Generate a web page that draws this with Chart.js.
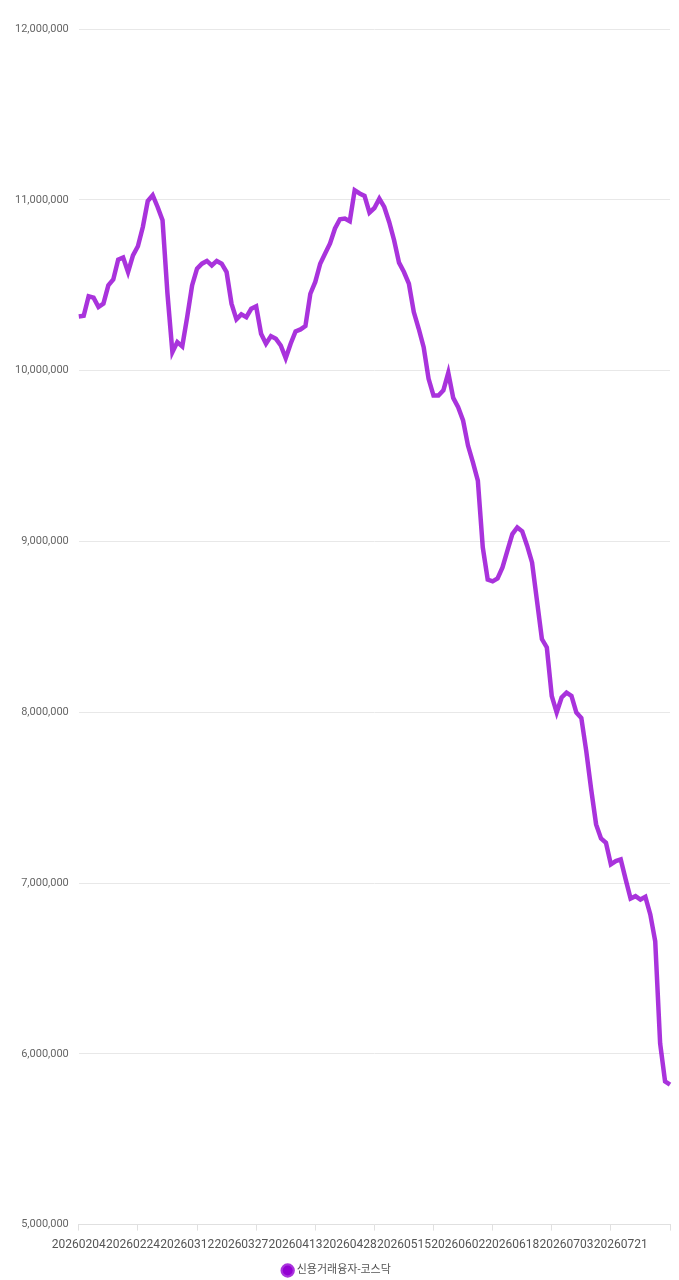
<!DOCTYPE html>
<html lang="ko">
<head>
<meta charset="utf-8">
<title>신용거래융자-코스닥</title>
<script src="https://cdn.jsdelivr.net/npm/chart.js@4.4.1/dist/chart.umd.min.js"></script>
<style>
    html, body { margin: 0; padding: 0; background: #fff; }
    #caixa { position: relative; width: 679px; height: 1280px; }
</style>
</head>
<body>
<div id="caixa"><canvas id="graficoCredito"></canvas></div>
<script>
// ---- dados do gráfico (datas de pregão e saldo)

const nomeSerie = '신용거래융자-코스닥';

const datas = [
    '20260204', '20260205', '20260206', '20260209', '20260210', '20260211', '20260212', '20260213', '20260219', '20260220', '20260223',
    '20260224', '20260225', '20260226', '20260227', '20260303', '20260304', '20260305', '20260306', '20260309', '20260310', '20260311',
    '20260312', '20260313', '20260316', '20260317', '20260318', '20260319', '20260320', '20260323', '20260324', '20260325', '20260326',
    '20260327', '20260330', '20260331', '20260401', '20260402', '20260403', '20260406', '20260407', '20260408', '20260409', '20260410',
    '20260413', '20260414', '20260415', '20260416', '20260417', '20260420', '20260421', '20260422', '20260423', '20260424', '20260427',
    '20260428', '20260429', '20260430', '20260504', '20260506', '20260507', '20260508', '20260511', '20260512', '20260513', '20260514',
    '20260515', '20260518', '20260519', '20260520', '20260521', '20260522', '20260526', '20260527', '20260528', '20260529', '20260601',
    '20260602', '20260604', '20260605', '20260608', '20260609', '20260610', '20260611', '20260612', '20260615', '20260616', '20260617',
    '20260618', '20260619', '20260622', '20260623', '20260624', '20260625', '20260626', '20260629', '20260630', '20260701', '20260702',
    '20260703', '20260706', '20260707', '20260708', '20260709', '20260710', '20260713', '20260714', '20260715', '20260716', '20260720',
    '20260721', '20260722', '20260723', '20260724', '20260727', '20260728', '20260729', '20260730', '20260731', '20260803', '20260804'
];

const saldo = [
    10317000, 10321000, 10435000, 10427000, 10372000, 10392000, 10499000, 10533000, 10650000, 10662000, 10577000,
    10675000, 10728000, 10841000, 10993000, 11027000, 10958000, 10880000, 10450000, 10108000, 10167000, 10142000,
    10313000, 10499000, 10597000, 10626000, 10642000, 10616000, 10642000, 10626000, 10577000, 10392000, 10300000,
    10329000, 10313000, 10362000, 10376000, 10216000, 10157000, 10202000, 10187000, 10147000, 10073000, 10157000,
    10229000, 10241000, 10261000, 10450000, 10519000, 10626000, 10685000, 10744000, 10832000, 10886000, 10890000,
    10874000, 11056000, 11037000, 11023000, 10925000, 10952000, 11007000, 10958000, 10870000, 10763000, 10632000,
    10577000, 10509000, 10343000, 10245000, 10137000, 9952000, 9854000, 9854000, 9884000, 9987000, 9840000,
    9786000, 9708000, 9561000, 9463000, 9356000, 8965000, 8776000, 8766000, 8783000, 8848000, 8946000,
    9043000, 9082000, 9059000, 8975000, 8877000, 8652000, 8428000, 8379000, 8095000, 7998000, 8086000,
    8115000, 8095000, 7998000, 7966000, 7773000, 7548000, 7343000, 7261000, 7236000, 7109000, 7128000,
    7138000, 7021000, 6909000, 6923000, 6903000, 6919000, 6816000, 6659000, 6060000, 5838000, 5819000
];

// eixo y: limites e passo
const eixoYMin = 5000000;
const eixoYMax = 12000000;
const eixoYPasso = 1000000;

// um rótulo a cada 11 pregões, uma marca no eixo a cada 12
const passoRotulo = 11;
const passoMarca = 12;

// ---- gráfico

Chart.defaults.font.family = "Roboto, 'Noto Sans CJK KR', sans-serif";
Chart.defaults.color = '#666';

const ctx = document.getElementById('graficoCredito').getContext('2d');

let graficoCredito = new Chart(ctx, {
    type: 'line',
    data: {
        labels: datas,
        datasets: [{
            label: nomeSerie,
            data: saldo,
            borderColor: 'rgba(148, 0, 211, 0.8)',
            backgroundColor: '#9400d3',
            borderWidth: 4.5,
            pointRadius: 0,
            pointHoverRadius: 0,
            tension: 0,
            fill: false
        }]
    },
    options: {
        responsive: true,
        maintainAspectRatio: false,
        animation: false,
        layout: {
            // legenda encostada na borda de baixo
            padding: { top: 29, left: 5, right: 9, bottom: -6 }
        },
        plugins: {
            legend: {
                position: 'bottom',
                labels: {
                    usePointStyle: true,
                    pointStyle: 'circle',
                    boxWidth: 7,
                    boxHeight: 7,
                    padding: 6,
                    color: '#555',
                    font: { size: 11 }
                }
            },
            tooltip: { enabled: false }
        },
        scales: {
            // rótulos das datas
            x: {
                type: 'category',
                position: 'bottom',
                weight: 1,
                grid: { display: false, drawTicks: false },
                border: { display: false },
                ticks: {
                    autoSkip: false,
                    maxRotation: 0,
                    padding: 7,
                    color: '#555',
                    font: { size: 12 }
                },
                afterBuildTicks: (eixo) => {
                    eixo.ticks = eixo.ticks.filter((t, i) => i % passoRotulo === 0 && i < datas.length - 1);
                }
            },
            // linha do eixo com as marcas
            xMarca: {
                type: 'category',
                position: 'bottom',
                weight: 0,
                ticks: { display: false },
                grid: {
                    drawOnChartArea: false,
                    drawTicks: true,
                    tickLength: 6,
                    color: '#e0e0e0'
                },
                border: { display: true, color: '#e0e0e0' },
                afterBuildTicks: (eixo) => {
                    eixo.ticks = eixo.ticks.filter((t, i) => i % passoMarca === 0);
                }
            },
            y: {
                min: eixoYMin,
                max: eixoYMax,
                border: { display: false },
                grid: { color: '#e8e8e8', drawTicks: false },
                ticks: {
                    stepSize: eixoYPasso,
                    padding: 10,
                    font: { size: 11 },
                    callback: (valor) => valor.toLocaleString('en-US')
                }
            }
        }
    }
});
</script>
</body>
</html>
